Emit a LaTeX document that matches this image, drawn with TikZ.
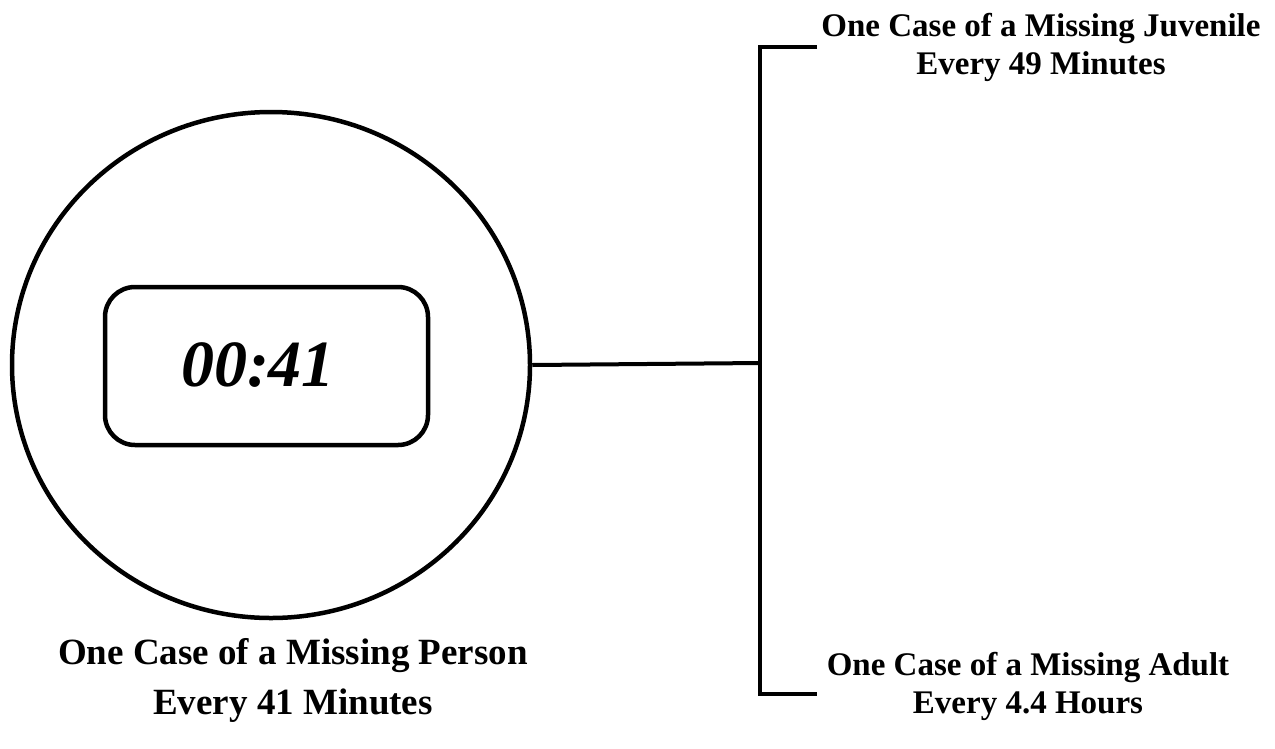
\documentclass[tikz,border=0pt]{standalone}
\usepackage{fontspec}
\setmainfont{Liberation Serif}
\usetikzlibrary{shapes.geometric}
\begin{document}
\begin{tikzpicture}[x=1pt,y=-1pt,
  thick line/.style={line width=4.5pt},
  label text/.style={font=\bfseries\fontsize{33}{38}\selectfont, align=center, inner sep=0pt},
  big label/.style={font=\bfseries\fontsize{37}{50}\selectfont, align=center, inner sep=0pt}]
\useasboundingbox (0,0) rectangle (1275,748);
\node[ellipse, draw, thick line, minimum width=518pt, minimum height=506pt, inner sep=0pt] (c) at (271,365) {};
\node[draw, thick line, rounded corners=30pt, minimum width=323pt, minimum height=158pt, inner sep=0pt] (box) at (266.5,366) {};
\node[font=\bfseries\itshape\fontsize{66}{70}\selectfont, inner sep=0pt] (time) at (258,365) {00:41};
\coordinate (j) at (760,363);
\coordinate (tt) at (817,47);
\coordinate (tb) at (817,694);
\draw[line width=4pt] (c.east) -- (j);
\draw[line width=4pt] (tt) -| (j) |- (tb);
\node[label text] (juv) at (1041,47) {One Case of a Missing Juvenile\\Every 49 Minutes};
\node[label text] (adult) at (1028,686) {One Case of a Missing Adult\\Every 4.4 Hours};
\node[big label] (person) at (293,680) {One Case of a Missing Person\\Every 41 Minutes};
\end{tikzpicture}
\end{document}
